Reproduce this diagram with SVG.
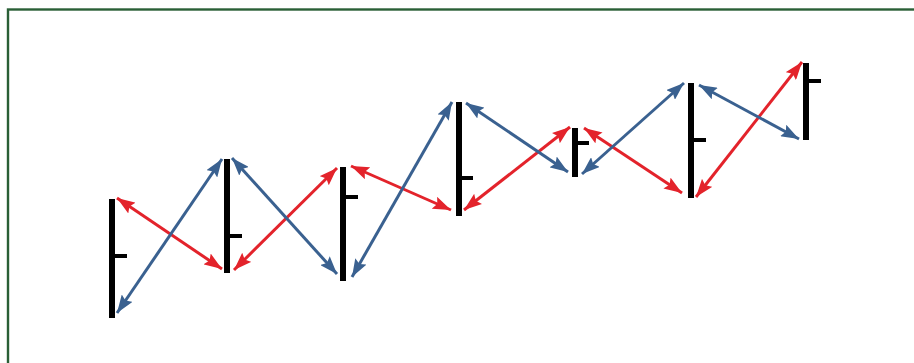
<svg xmlns="http://www.w3.org/2000/svg" width="914" height="363" viewBox="0 0 914 363">
<defs>
<style>
.bar{fill:#000}
.r{stroke:#e3232b;stroke-width:3;fill:none;marker-start:url(#ar);marker-end:url(#ar)}
.b{stroke:#3a6190;stroke-width:3;fill:none;marker-start:url(#ab);marker-end:url(#ab)}
</style>
<marker id="ar" markerUnits="userSpaceOnUse" markerWidth="18" markerHeight="13" refX="18" refY="6.5" orient="auto-start-reverse" viewBox="0 0 18 13"><path d="M0,0 L18,6.5 L0,13 L3,6.5 z" fill="#e3232b"/></marker>
<marker id="ab" markerUnits="userSpaceOnUse" markerWidth="18" markerHeight="13" refX="18" refY="6.5" orient="auto-start-reverse" viewBox="0 0 18 13"><path d="M0,0 L18,6.5 L0,13 L3,6.5 z" fill="#3a6190"/></marker>
</defs>
<rect width="914" height="363" fill="#fff"/>
<rect x="8" y="9.5" width="920" height="370" fill="none" stroke="#2a5f36" stroke-width="2.4"/>
<g id="bar1"><rect class="bar" x="109" y="199" width="6" height="119"/><rect class="bar" x="115" y="254" width="12" height="4"/></g>
<g id="bar2"><rect class="bar" x="224" y="159" width="6" height="114"/><rect class="bar" x="230" y="234" width="12" height="4"/></g>
<g id="bar3"><rect class="bar" x="340" y="167" width="6" height="114"/><rect class="bar" x="346" y="195" width="12" height="4"/></g>
<g id="bar4"><rect class="bar" x="456" y="102" width="6" height="114"/><rect class="bar" x="462" y="176" width="11" height="4"/></g>
<g id="bar5"><rect class="bar" x="572" y="128" width="6" height="49"/><rect class="bar" x="578" y="141" width="11" height="4"/></g>
<g id="bar6"><rect class="bar" x="688" y="83" width="6" height="115"/><rect class="bar" x="694" y="138" width="12" height="4"/></g>
<g id="bar7"><rect class="bar" x="803" y="63" width="6" height="77"/><rect class="bar" x="809" y="79" width="12" height="4"/></g>
<g id="connectors">
<line class="r" x1="117" y1="198" x2="222" y2="269"/>
<line class="r" x1="234" y1="270" x2="337" y2="168"/>
<line class="r" x1="351" y1="166" x2="451" y2="210"/>
<line class="r" x1="464" y1="210" x2="570" y2="127"/>
<line class="r" x1="584" y1="128" x2="682" y2="193"/>
<line class="r" x1="696" y1="197" x2="802" y2="62"/>
<line class="b" x1="117" y1="313" x2="222" y2="159"/>
<line class="b" x1="232" y1="158" x2="337" y2="274"/>
<line class="b" x1="352" y1="277" x2="452" y2="102"/>
<line class="b" x1="466" y1="103" x2="568" y2="172"/>
<line class="b" x1="582" y1="174" x2="684" y2="83"/>
<line class="b" x1="699" y1="85" x2="799" y2="139"/>
</g>
</svg>
